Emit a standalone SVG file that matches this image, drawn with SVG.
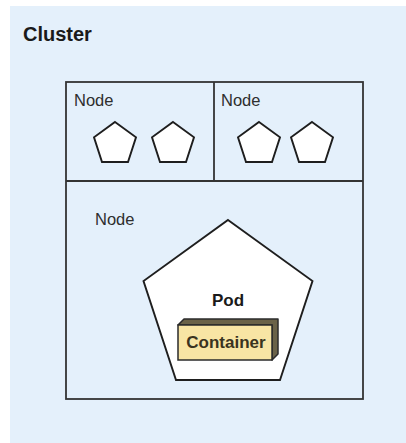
<svg xmlns="http://www.w3.org/2000/svg" width="406" height="443" viewBox="0 0 406 443">
  <style>
    .label { font-family: "Liberation Sans", Arial, sans-serif; fill: #1a1a1a; }
    .title { font-size: 20px; font-weight: bold; }
    .node-label { font-size: 16.5px; fill: #2e2e2e; }
    .bold { font-size: 17px; font-weight: bold; }
    .frame { fill: none; stroke: #333; stroke-width: 1.8; }
    .pod { fill: #fff; stroke: #1e1e1e; stroke-width: 1.9; stroke-linejoin: miter; }
    .box-front { fill: #f8e5a4; stroke: #2b2b2b; stroke-width: 1.5; }
    .box-side { fill: #6a6248; stroke: #2b2b2b; stroke-width: 1.5; stroke-linejoin: round; }
  </style>
  <defs>
    <polygon id="small-pod" points="0,0 21,15.3 13,40 -13,40 -21,15.3"/>
  </defs>

  <!-- cluster background -->
  <g id="cluster">
    <rect x="10" y="6" width="396" height="437" fill="#e4f0fb"/>
    <text class="label title" x="23" y="41">Cluster</text>
  </g>

  <!-- node area: outer frame with dividers -->
  <g id="node-frame">
    <rect class="frame" x="66" y="82" width="297" height="317"/>
  </g>

  <g id="node-1">
    <line class="frame" x1="66" y1="181" x2="214" y2="181"/>
    <text class="label node-label" x="74" y="106">Node</text>
    <use href="#small-pod" class="pod" x="115" y="122"/>
    <use href="#small-pod" class="pod" x="173" y="122"/>
  </g>

  <g id="node-2">
    <line class="frame" x1="214" y1="82" x2="214" y2="181"/>
    <line class="frame" x1="214" y1="181" x2="363" y2="181"/>
    <text class="label node-label" x="221" y="106">Node</text>
    <use href="#small-pod" class="pod" x="259" y="122"/>
    <use href="#small-pod" class="pod" x="312" y="122"/>
  </g>

  <g id="node-3">
    <text class="label node-label" x="95" y="225">Node</text>
  </g>

  <!-- pod with its container -->
  <g id="pod">
    <polygon class="pod" points="228,220 312.5,281 280,380 176,380 143.5,281"/>
    <text class="label bold" x="228" y="306" text-anchor="middle">Pod</text>
  </g>

  <g id="container">
    <polygon class="box-side" points="178,325 184,319 278,319 278,354 272,360 272,325"/>
    <rect class="box-front" x="178" y="325" width="94" height="35"/>
    <text class="label bold" x="226" y="348" text-anchor="middle" style="fill:#3a3320">Container</text>
  </g>
</svg>
